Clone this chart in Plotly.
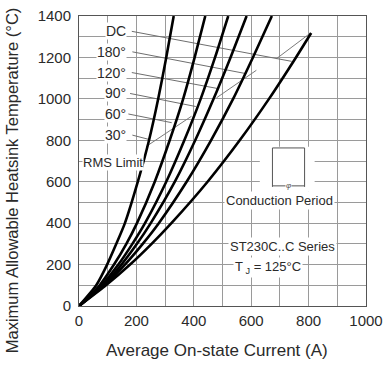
import plotly.graph_objects as go

# ---- data ----
temps = [0, 100, 200, 300, 400, 600, 800, 1000, 1200, 1400]
i_30 = [0, 60, 98, 130, 160, 205, 244, 276, 304, 330]
i_60 = [0, 72, 122, 165, 202, 264, 316, 363, 403, 440]
i_90 = [0, 79, 137, 186, 230, 304, 367, 424, 474, 520]
i_120 = [0, 84, 148, 202, 250, 334, 405, 469, 528, 584]
i_180 = [0, 88, 160, 222, 278, 375, 460, 537, 606, 672]
temps_dc = [0, 100, 200, 300, 400, 600, 800, 1000, 1200, 1318]
i_dc = [0, 94, 178, 253, 322, 448, 560, 662, 756, 809]

# RMS limit line (with gaps as in the reference)
rms_i = [235, 392, None, 479, 618, None, 688, 805]
rms_t = [771, 916, None, 1005, 1138, None, 1194, 1316]

# labels and their leader lines
labels = ["DC", "180°", "120°", "90°", "60°", "30°"]
label_t = [1326, 1227, 1127, 1026, 927, 825]
leader_start_i = [184, 186, 184, 178, 172, 186]
leader_end_i = [741, 581, 483, 407, 323, 247]
leader_end_t = [1181, 1122, 1050, 963, 885, 803]

x_ticks = [0, 200, 400, 600, 800, 1000]
y_ticks = [0, 200, 400, 600, 800, 1000, 1200, 1400]

FONT = "Liberation Sans, Arial, sans-serif"
TXT = "#2a2a2a"
GRID = "#9a9a9a"

fig = go.Figure()

for s, e, et, lt in zip(leader_start_i, leader_end_i, leader_end_t, label_t):
    fig.add_trace(go.Scatter(x=[s, e], y=[lt, et], mode="lines",
                             line=dict(color="#6e6e6e", width=1),
                             showlegend=False, hoverinfo="skip"))

fig.add_trace(go.Scatter(x=rms_i, y=rms_t, mode="lines",
                         line=dict(color="#7a7a7a", width=1),
                         showlegend=False, hoverinfo="skip", connectgaps=False))

for xs, ys in [(i_30, temps), (i_60, temps), (i_90, temps), (i_120, temps),
               (i_180, temps), (i_dc, temps_dc)]:
    fig.add_trace(go.Scatter(x=xs, y=ys, mode="lines",
                             line=dict(color="#000000", width=2.6, shape="spline", smoothing=0.6),
                             showlegend=False, hoverinfo="skip"))

annotations = []
for lab, t in zip(labels, label_t):
    annotations.append(dict(x=168, y=t, xref="x", yref="y", text=lab, showarrow=False,
                            xanchor="right", yanchor="middle",
                            font=dict(family=FONT, size=14, color=TXT),
                            bgcolor="white", borderpad=0))
annotations.append(dict(x=118, y=692, xref="x", yref="y", text="RMS Limit", showarrow=False,
                        xanchor="center", yanchor="middle",
                        font=dict(family=FONT, size=13, color=TXT), bgcolor="white", borderpad=0))
annotations.append(dict(x=698, y=508, xref="x", yref="y", text="Conduction Period", showarrow=False,
                        xanchor="center", yanchor="middle",
                        font=dict(family=FONT, size=13, color=TXT), bgcolor="white", borderpad=1))
annotations.append(dict(x=710, y=285, xref="x", yref="y", text="ST230C..C Series", showarrow=False,
                        xanchor="center", yanchor="middle",
                        font=dict(family=FONT, size=13, color=TXT), bgcolor="white", borderpad=1))
annotations.append(dict(x=536, y=184, xref="x", yref="y", text="T<sub> J</sub> = 125°C", showarrow=False,
                        xanchor="left", yanchor="middle",
                        font=dict(family=FONT, size=13, color=TXT), bgcolor="white", borderpad=1))
annotations.append(dict(x=730, y=580, xref="x", yref="y", text="<i>φ</i>", showarrow=False,
                        xanchor="center", yanchor="middle",
                        font=dict(family=FONT, size=8, color="#555"), bgcolor="white", borderpad=0))
# axis titles
annotations.append(dict(x=0.481, y=-0.152, xref="paper", yref="paper",
                        text="Average On-state Current (A)", showarrow=False,
                        xanchor="center", yanchor="middle",
                        font=dict(family=FONT, size=17, color=TXT)))
annotations.append(dict(x=-0.233, y=0.434, xref="paper", yref="paper",
                        text="Maximum Allowable Heatsink Temperature (°C)", showarrow=False,
                        textangle=-90, xanchor="center", yanchor="middle",
                        font=dict(family=FONT, size=16.5, color=TXT)))

shapes = [
    dict(type="rect", xref="x", yref="y", x0=630, x1=821, y0=552, y1=769,
         fillcolor="white", line=dict(width=0), layer="above"),
    dict(type="path", xref="x", yref="y", path="M 674 575 L 674 763 L 786 763 L 786 575",
         line=dict(color="#555", width=1), layer="above"),
    dict(type="line", xref="x", yref="y", x0=674, x1=786, y0=580, y1=580,
         line=dict(color="#555", width=1), layer="above"),
]

fig.update_layout(
    width=384, height=370,
    margin=dict(l=79, r=18, t=16, b=64),
    paper_bgcolor="white", plot_bgcolor="white",
    font=dict(family=FONT, color=TXT),
    annotations=annotations, shapes=shapes,
    xaxis=dict(range=[0, 1000], tickvals=x_ticks, showgrid=True, gridcolor=GRID, gridwidth=1,
               minor=dict(dtick=100, showgrid=True, gridcolor=GRID, gridwidth=1),
               showline=True, linecolor="#555", linewidth=1, mirror=True,
               ticks="outside", ticklen=1, tickcolor="rgba(0,0,0,0)", automargin=False,
               ticklabeloverflow="allow",
               tickfont=dict(family=FONT, size=15, color=TXT), zeroline=False),
    yaxis=dict(range=[0, 1400], tickvals=y_ticks, showgrid=True, gridcolor=GRID, gridwidth=1,
               minor=dict(dtick=100, showgrid=True, gridcolor=GRID, gridwidth=1),
               showline=True, linecolor="#555", linewidth=1, mirror=True,
               ticks="outside", ticklen=4, tickcolor="rgba(0,0,0,0)", automargin=False,
               ticklabeloverflow="allow",
               tickfont=dict(family=FONT, size=15, color=TXT), zeroline=False),
)

# remove the default 8px page margin so the 384x370 figure fills the window
fig.write_html("out.html", config={"displayModeBar": False, "staticPlot": True},
               post_script="document.body.style.margin='0';document.body.style.overflow='hidden';")
